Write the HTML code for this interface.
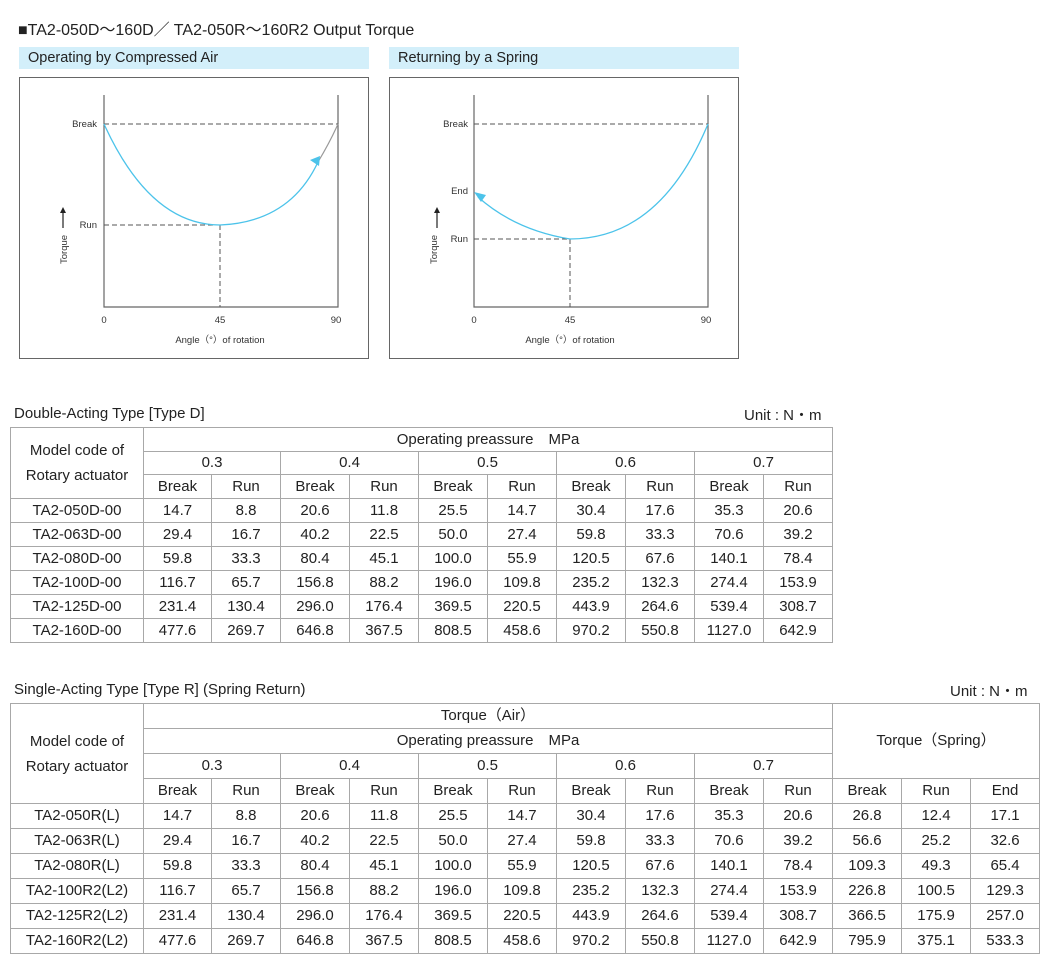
<!DOCTYPE html>
<html><head><meta charset="utf-8">
<style>
body{margin:0;background:#fff;width:1051px;height:963px;position:relative;overflow:hidden;font-family:"Liberation Sans","Noto Sans CJK JP",sans-serif;color:#222}
.abs{position:absolute}
table{border-collapse:collapse;table-layout:fixed;position:absolute;font-size:15px}
td{border:1px solid #a8a8a8;text-align:center;padding:0;white-space:nowrap;line-height:18px}
.hd{background:#d3effa;font-size:14.5px;padding-left:9px;line-height:22px;height:22px;width:341px;color:#222}
</style></head><body>
<div class="abs" style="left:18px;top:16px;font-size:16px;">■TA2-050D～160D／ TA2-050R～160R2 Output Torque</div>
<div class="abs hd" style="left:19px;top:47px;">Operating by Compressed Air</div>
<div class="abs hd" style="left:389px;top:47px;">Returning by a Spring</div>
<svg class="abs" style="left:0;top:0" width="1051" height="380" font-family="Liberation Sans,sans-serif" font-size="9.5" fill="#333">
<rect x="19.5" y="77.5" width="349" height="281" fill="none" stroke="#666"/>
<rect x="389.5" y="77.5" width="349" height="281" fill="none" stroke="#666"/>
<g stroke="#666" stroke-width="1.2" fill="none">
<path d="M104 95V307H338V95"/><path d="M474 95V307H708V95"/>
</g>
<g stroke="#555" stroke-dasharray="5,3" fill="none">
<path d="M104 124H338M104 225H220M220 225V307"/>
<path d="M474 124H708M474 239H570M570 239V307"/>
</g>
<path d="M104 124Q150 225 220 225Q290 222 318 162" fill="none" stroke="#4cc3ea" stroke-width="1.3"/>
<path d="M318 162Q330 142 338 124" fill="none" stroke="#999" stroke-width="1.2"/>
<path d="M320 156l-10 4l9 6z" fill="#4cc3ea"/>
<path d="M708 124Q660 239 570 239Q515 230 478 197" fill="none" stroke="#4cc3ea" stroke-width="1.3"/>
<path d="M474 192l12 3l-5 7z" fill="#4cc3ea"/>
<text x="97" y="127" text-anchor="end">Break</text><text x="97" y="228" text-anchor="end">Run</text>
<text x="468" y="127" text-anchor="end">Break</text><text x="468" y="194" text-anchor="end">End</text><text x="468" y="242" text-anchor="end">Run</text>
<text x="104" y="323" text-anchor="middle">0</text><text x="220" y="323" text-anchor="middle">45</text><text x="336" y="323" text-anchor="middle">90</text>
<text x="474" y="323" text-anchor="middle">0</text><text x="570" y="323" text-anchor="middle">45</text><text x="706" y="323" text-anchor="middle">90</text>
<text x="220" y="343" text-anchor="middle">Angle（°）of rotation</text>
<text x="570" y="343" text-anchor="middle">Angle（°）of rotation</text>
<text transform="translate(67,264) rotate(-90)">Torque</text>
<text transform="translate(437,264) rotate(-90)">Torque</text>
<path d="M63 228V210M437 228V210" stroke="#222" stroke-width="1.2"/>
<path d="M60 213l3-6l3 6zM434 213l3-6l3 6z" fill="#222"/>
</svg>
<div class="abs" style="left:14px;top:405px;font-size:15px">Double-Acting Type [Type D]</div>
<div class="abs" style="left:744px;top:404px;font-size:15px">Unit : N・m</div>
<table style="left:10px;top:427px;width:822px">
<colgroup><col style="width:133px"><col style="width:68px"><col style="width:69px"><col style="width:69px"><col style="width:69px"><col style="width:69px"><col style="width:69px"><col style="width:69px"><col style="width:69px"><col style="width:69px"><col style="width:69px"></colgroup>
<tr style="height:24px"><td rowspan="3" style="line-height:25px">Model code of<br>Rotary actuator</td><td colspan="10">Operating preassure　MPa</td></tr>
<tr style="height:23px"><td colspan="2">0.3</td><td colspan="2">0.4</td><td colspan="2">0.5</td><td colspan="2">0.6</td><td colspan="2">0.7</td></tr>
<tr style="height:24px"><td>Break</td><td>Run</td><td>Break</td><td>Run</td><td>Break</td><td>Run</td><td>Break</td><td>Run</td><td>Break</td><td>Run</td></tr>
<tr style="height:24px"><td>TA2-050D-00</td><td>14.7</td><td>8.8</td><td>20.6</td><td>11.8</td><td>25.5</td><td>14.7</td><td>30.4</td><td>17.6</td><td>35.3</td><td>20.6</td></tr>
<tr style="height:24px"><td>TA2-063D-00</td><td>29.4</td><td>16.7</td><td>40.2</td><td>22.5</td><td>50.0</td><td>27.4</td><td>59.8</td><td>33.3</td><td>70.6</td><td>39.2</td></tr>
<tr style="height:24px"><td>TA2-080D-00</td><td>59.8</td><td>33.3</td><td>80.4</td><td>45.1</td><td>100.0</td><td>55.9</td><td>120.5</td><td>67.6</td><td>140.1</td><td>78.4</td></tr>
<tr style="height:24px"><td>TA2-100D-00</td><td>116.7</td><td>65.7</td><td>156.8</td><td>88.2</td><td>196.0</td><td>109.8</td><td>235.2</td><td>132.3</td><td>274.4</td><td>153.9</td></tr>
<tr style="height:24px"><td>TA2-125D-00</td><td>231.4</td><td>130.4</td><td>296.0</td><td>176.4</td><td>369.5</td><td>220.5</td><td>443.9</td><td>264.6</td><td>539.4</td><td>308.7</td></tr>
<tr style="height:24px"><td>TA2-160D-00</td><td>477.6</td><td>269.7</td><td>646.8</td><td>367.5</td><td>808.5</td><td>458.6</td><td>970.2</td><td>550.8</td><td>1127.0</td><td>642.9</td></tr>
</table>
<div class="abs" style="left:14px;top:681px;font-size:15px">Single-Acting Type [Type R] (Spring Return)</div>
<div class="abs" style="left:950px;top:680px;font-size:15px">Unit : N・m</div>
<table style="left:10px;top:703px;width:1029px">
<colgroup><col style="width:133px"><col style="width:68px"><col style="width:69px"><col style="width:69px"><col style="width:69px"><col style="width:69px"><col style="width:69px"><col style="width:69px"><col style="width:69px"><col style="width:69px"><col style="width:69px"><col style="width:69px"><col style="width:69px"><col style="width:69px"></colgroup>
<tr style="height:25px"><td rowspan="4" style="line-height:25px">Model code of<br>Rotary actuator</td><td colspan="10">Torque（Air）</td><td colspan="3" rowspan="3">Torque（Spring）</td></tr>
<tr style="height:25px"><td colspan="10">Operating preassure　MPa</td></tr>
<tr style="height:25px"><td colspan="2">0.3</td><td colspan="2">0.4</td><td colspan="2">0.5</td><td colspan="2">0.6</td><td colspan="2">0.7</td></tr>
<tr style="height:25px"><td>Break</td><td>Run</td><td>Break</td><td>Run</td><td>Break</td><td>Run</td><td>Break</td><td>Run</td><td>Break</td><td>Run</td><td>Break</td><td>Run</td><td>End</td></tr>
<tr style="height:25px"><td>TA2-050R(L)</td><td>14.7</td><td>8.8</td><td>20.6</td><td>11.8</td><td>25.5</td><td>14.7</td><td>30.4</td><td>17.6</td><td>35.3</td><td>20.6</td><td>26.8</td><td>12.4</td><td>17.1</td></tr>
<tr style="height:25px"><td>TA2-063R(L)</td><td>29.4</td><td>16.7</td><td>40.2</td><td>22.5</td><td>50.0</td><td>27.4</td><td>59.8</td><td>33.3</td><td>70.6</td><td>39.2</td><td>56.6</td><td>25.2</td><td>32.6</td></tr>
<tr style="height:25px"><td>TA2-080R(L)</td><td>59.8</td><td>33.3</td><td>80.4</td><td>45.1</td><td>100.0</td><td>55.9</td><td>120.5</td><td>67.6</td><td>140.1</td><td>78.4</td><td>109.3</td><td>49.3</td><td>65.4</td></tr>
<tr style="height:25px"><td>TA2-100R2(L2)</td><td>116.7</td><td>65.7</td><td>156.8</td><td>88.2</td><td>196.0</td><td>109.8</td><td>235.2</td><td>132.3</td><td>274.4</td><td>153.9</td><td>226.8</td><td>100.5</td><td>129.3</td></tr>
<tr style="height:25px"><td>TA2-125R2(L2)</td><td>231.4</td><td>130.4</td><td>296.0</td><td>176.4</td><td>369.5</td><td>220.5</td><td>443.9</td><td>264.6</td><td>539.4</td><td>308.7</td><td>366.5</td><td>175.9</td><td>257.0</td></tr>
<tr style="height:25px"><td>TA2-160R2(L2)</td><td>477.6</td><td>269.7</td><td>646.8</td><td>367.5</td><td>808.5</td><td>458.6</td><td>970.2</td><td>550.8</td><td>1127.0</td><td>642.9</td><td>795.9</td><td>375.1</td><td>533.3</td></tr>
</table>
</body></html>
